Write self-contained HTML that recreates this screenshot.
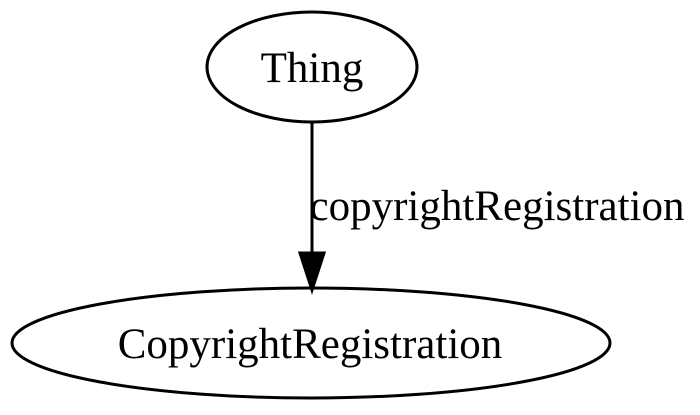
<!DOCTYPE html>
<html><head><style>html,body{margin:0;padding:0;background:#fff;}</style></head>
<body>
<svg width="700" height="410" viewBox="0 0 700 410" xmlns="http://www.w3.org/2000/svg">
<rect width="700" height="410" fill="#fff"/>
<ellipse cx="312" cy="67" rx="105" ry="55" fill="none" stroke="#000" stroke-width="3"/>
<text x="312" y="82" text-anchor="middle" font-family="Liberation Serif, serif" font-size="43">Thing</text>
<line x1="312" y1="123" x2="312" y2="255" stroke="#000" stroke-width="3"/>
<polygon points="300,253 324,253 312,290" fill="#000" stroke="#000" stroke-width="3"/>
<text x="497" y="220" text-anchor="middle" font-family="Liberation Serif, serif" font-size="43">copyrightRegistration</text>
<ellipse cx="311" cy="343" rx="299" ry="55" fill="none" stroke="#000" stroke-width="3"/>
<text x="310" y="358" text-anchor="middle" font-family="Liberation Serif, serif" font-size="43">CopyrightRegistration</text>
</svg>
</body></html>
